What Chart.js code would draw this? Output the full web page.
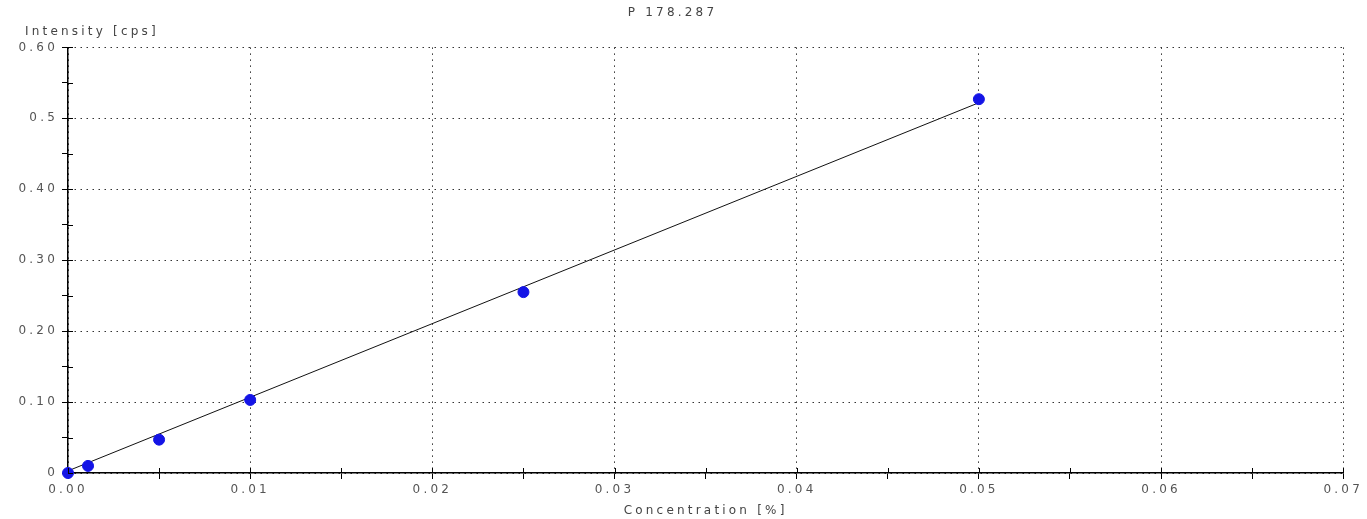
<!DOCTYPE html>
<html>
<head>
<meta charset="utf-8">
<script src="https://cdn.jsdelivr.net/npm/chart.js@4"></script>
<style>
html, body { margin: 0; background: #fff; }
#wrap { width: 1367px; height: 519px; }
</style>
</head>
<body>
<div id="wrap"><canvas id="calChart"></canvas></div>
<script>
// calibration points
const concentration = [0, 0.0011, 0.005, 0.01, 0.025, 0.05];
const intensity = [0, 0.010, 0.047, 0.103, 0.255, 0.527];
// regression line ends
const fitConc = [0, 0.05];
const fitInt = [0.003, 0.522];
const xTickLabels = ['0.00', '0.01', '0.02', '0.03', '0.04', '0.05', '0.06', '0.07'];
const yTickLabels = ['0', '0.10', '0.20', '0.30', '0.40', '0.5', '0.60'];

const font = { family: 'DejaVu Sans', size: 12, weight: 'normal' };
const spacing = '3.2px';

const spacingPlugin = {
    id: 'spacing',
    beforeLayout: chart => { chart.ctx.letterSpacing = spacing; },
    beforeDraw: chart => { chart.ctx.letterSpacing = spacing; }
};

// y title sits above the axis, and tick marks also reach into the plot
const extrasPlugin = {
    id: 'extras',
    afterDraw(chart) {
        const { ctx, chartArea, scales } = chart;
        ctx.save();
        ctx.letterSpacing = spacing;
        ctx.font = '12px "DejaVu Sans"';
        ctx.fillStyle = '#444';
        ctx.textAlign = 'left';
        ctx.textBaseline = 'middle';
        ctx.fillText('Intensity [cps]', chartArea.left - 43, chartArea.top - 16);

        ctx.strokeStyle = '#000';
        ctx.lineWidth = 1;
        ctx.beginPath();
        scales.x.ticks.forEach((t, i) => {
            const px = Math.round(scales.x.getPixelForTick(i)) + 0.5;
            ctx.moveTo(px, chartArea.bottom);
            ctx.lineTo(px, chartArea.bottom - 5);
        });
        scales.y.ticks.forEach((t, i) => {
            const py = Math.round(scales.y.getPixelForTick(i)) + 0.5;
            ctx.moveTo(chartArea.left, py);
            ctx.lineTo(chartArea.left + 5, py);
        });
        ctx.stroke();
        ctx.restore();
    }
};

const gridColor = c => c.index % 2 === 0 ? '#333' : 'rgba(0,0,0,0)';

new Chart(document.getElementById('calChart'), {
    type: 'scatter',
    data: {
        datasets: [{
            label: 'Standards',
            data: concentration.map((c, i) => ({ x: c, y: intensity[i] })),
            backgroundColor: '#1414e6',
            borderColor: '#1414e6',
            pointRadius: 5.5,
            pointHoverRadius: 5.5,
            clip: false
        }, {
            label: 'Fit',
            type: 'line',
            data: fitConc.map((c, i) => ({ x: c, y: fitInt[i] })),
            borderColor: '#111',
            borderWidth: 1,
            pointRadius: 0,
            fill: false
        }]
    },
    options: {
        responsive: true,
        maintainAspectRatio: false,
        animation: false,
        layout: { padding: { left: 0, right: 22, top: 0, bottom: 0 } },
        plugins: {
            legend: { display: false },
            tooltip: { enabled: false },
            title: {
                display: true,
                text: 'P 178.287',
                color: '#444',
                font: font,
                padding: { top: 6, bottom: 27 }
            }
        },
        scales: {
            x: {
                type: 'linear',
                min: 0,
                max: 0.07,
                afterFit: s => { s.height = 46; },
                ticks: {
                    stepSize: 0.005,
                    autoSkip: false,
                    maxRotation: 0,
                    padding: 4,
                    color: '#555',
                    font: font,
                    callback: (v, i) => i % 2 === 0 ? xTickLabels[i / 2] : ''
                },
                grid: { color: gridColor, tickColor: '#000', tickLength: 6, lineWidth: 1 },
                border: { color: '#000', width: 1.5, dash: [1.5, 4.5] },
                title: {
                    display: true,
                    text: 'Concentration [%]',
                    color: '#444',
                    font: font,
                    padding: { top: 0, bottom: 1 }
                }
            },
            y: {
                type: 'linear',
                min: 0,
                max: 0.6,
                afterFit: s => { s.width = 68; },
                ticks: {
                    stepSize: 0.05,
                    autoSkip: false,
                    padding: 4,
                    color: '#555',
                    font: font,
                    callback: (v, i) => i % 2 === 0 ? yTickLabels[i / 2] : ''
                },
                grid: { color: gridColor, tickColor: '#000', tickLength: 6, lineWidth: 1 },
                border: { color: '#000', width: 1.5, dash: [1.5, 4.5] }
            }
        }
    },
    plugins: [spacingPlugin, extrasPlugin]
});
</script>
</body>
</html>
